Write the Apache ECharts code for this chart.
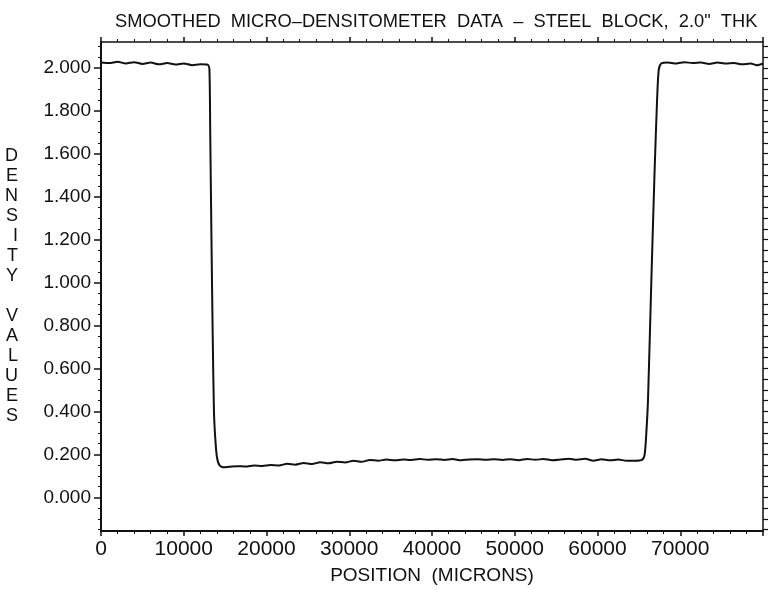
<!DOCTYPE html>
<html>
<head>
<meta charset="utf-8">
<script src="https://cdn.jsdelivr.net/npm/echarts@6/dist/echarts.min.js"></script>
<style>
  html, body { margin: 0; padding: 0; background: #fff; }
  #chart { width: 770px; height: 590px; }
</style>
</head>
<body>
<div id="chart"></div>
<script>
// position along the scan (microns)
var positions = [
  0, 1000, 2000, 3000, 4000, 5000, 6000, 7000, 8000, 9000,
  10000, 11000, 12000, 12900, 13100, 13200, 13350, 13500, 13650, 13800,
  14000, 14300, 14800, 15500, 16500, 17500, 18500, 19500, 20500, 21500,
  22500, 23500, 24500, 25500, 26500, 27500, 28500, 29500, 30500, 31500,
  32500, 33500, 34500, 35500, 36500, 37500, 38500, 39500, 40500, 41500,
  42500, 43500, 44500, 45500, 46500, 47500, 48500, 49500, 50500, 51500,
  52500, 53500, 54500, 55500, 56500, 57500, 58500, 59500, 60500, 61500,
  62500, 63500, 64500, 65400, 65700, 65900, 66100, 66500, 66900, 67200,
  67400, 67700, 68500, 69500, 70500, 71500, 72500, 73500, 74500, 75500,
  76500, 77500, 78500, 79300, 80000
];
// smoothed density readings
var density = [
  2.025, 2.022, 2.028, 2.020, 2.026, 2.018, 2.024, 2.016, 2.022, 2.015,
  2.020, 2.012, 2.016, 2.014, 1.995, 1.700, 1.200, 0.750, 0.400, 0.280,
  0.190, 0.150, 0.140, 0.142, 0.145, 0.143, 0.148, 0.146, 0.150, 0.148,
  0.156, 0.152, 0.160, 0.155, 0.163, 0.158, 0.166, 0.162, 0.170, 0.165,
  0.174, 0.170, 0.176, 0.172, 0.176, 0.174, 0.178, 0.175, 0.177, 0.174,
  0.178, 0.172, 0.176, 0.177, 0.175, 0.177, 0.174, 0.177, 0.173, 0.178,
  0.175, 0.178, 0.173, 0.176, 0.180, 0.175, 0.179, 0.170, 0.177, 0.172,
  0.176, 0.170, 0.170, 0.175, 0.200, 0.300, 0.450, 1.000, 1.520, 1.850,
  1.990, 2.020, 2.025, 2.020, 2.026, 2.022, 2.024, 2.018, 2.025, 2.020,
  2.022, 2.016, 2.020, 2.012, 2.020
];

var yLabelValues = [0, 0.2, 0.4, 0.6, 0.8, 1.0, 1.2, 1.4, 1.6, 1.8, 2.0];
var yMinorValues = [
  -0.15, -0.1, -0.05, 0.05, 0.1, 0.15, 0.25, 0.3, 0.35, 0.45, 0.5, 0.55,
  0.65, 0.7, 0.75, 0.85, 0.9, 0.95, 1.05, 1.1, 1.15, 1.25, 1.3, 1.35,
  1.45, 1.5, 1.55, 1.65, 1.7, 1.75, 1.85, 1.9, 1.95, 2.05, 2.1
];

var FONT = "Liberation Sans";
var chart = echarts.init(document.getElementById("chart"));

var data = [];
positions.forEach(function (p, i) {
  data.push([p, density[i]]);
});

var yMin = -0.157;
var yMax = 2.12;

chart.setOption({
  backgroundColor: "#ffffff",
  animation: false,
  title: {
    text: "SMOOTHED  MICRO\u2013DENSITOMETER  DATA  \u2013  STEEL  BLOCK,  2.0\"  THK",
    left: 110,
    top: 8,
    textStyle: {
      fontFamily: FONT,
      fontSize: 18.3,
      fontWeight: "normal",
      color: "#111"
    }
  },
  grid: {
    left: 101,
    right: 7,
    top: 42,
    bottom: 56
  },
  xAxis: [
    {
      type: "value",
      position: "bottom",
      min: 0,
      max: 80000,
      interval: 10000,
      name: "POSITION  (MICRONS)",
      nameLocation: "middle",
      nameGap: 35,
      nameTextStyle: { fontFamily: FONT, fontSize: 19, color: "#111" },
      axisLine: { show: true, onZero: false, lineStyle: { color: "#111", width: 2 } },
      axisTick: { show: true, length: 5, lineStyle: { color: "#111", width: 1.5 } },
      minorTick: { show: true, splitNumber: 5, length: 3, lineStyle: { color: "#111", width: 1 } },
      axisLabel: {
        fontFamily: FONT,
        fontSize: 21,
        color: "#111",
        margin: 8,
        showMaxLabel: false,
        formatter: function (v) { return String(v); }
      },
      splitLine: { show: false }
    },
    {
      type: "value",
      position: "top",
      min: 0,
      max: 80000,
      interval: 10000,
      axisLine: { show: true, onZero: false, lineStyle: { color: "#111", width: 1.5 } },
      axisTick: { show: true, length: 5, lineStyle: { color: "#111", width: 1.5 } },
      minorTick: { show: true, splitNumber: 5, length: 3, lineStyle: { color: "#111", width: 1 } },
      axisLabel: { show: false },
      splitLine: { show: false }
    }
  ],
  yAxis: [
    {
      type: "value",
      position: "left",
      min: yMin,
      max: yMax,
      name: "D\nE\nN\nS\nI\nT\nY\n\nV\nA\nL\nU\nE\nS",
      nameLocation: "middle",
      nameRotate: 0,
      nameGap: 83,
      nameTextStyle: { fontFamily: FONT, fontSize: 18, lineHeight: 20, color: "#111" },
      axisLine: { show: true, onZero: false, lineStyle: { color: "#111", width: 2 } },
      axisTick: {
        show: true,
        length: 7,
        customValues: yLabelValues,
        lineStyle: { color: "#111", width: 1.5 }
      },
      axisLabel: {
        fontFamily: FONT,
        fontSize: 19,
        color: "#111",
        margin: 10,
        customValues: yLabelValues,
        formatter: function (v) { return v.toFixed(3); }
      },
      splitLine: { show: false }
    },
    {
      type: "value",
      position: "left",
      min: yMin,
      max: yMax,
      axisLine: { show: false, onZero: false },
      axisTick: {
        show: true,
        length: 3,
        customValues: yMinorValues,
        lineStyle: { color: "#111", width: 1 }
      },
      axisLabel: { show: false },
      splitLine: { show: false }
    },
    {
      type: "value",
      position: "right",
      min: yMin,
      max: yMax,
      axisLine: { show: true, onZero: false, lineStyle: { color: "#111", width: 1.5 } },
      axisTick: {
        show: true,
        length: 5,
        customValues: yLabelValues.concat(yMinorValues),
        lineStyle: { color: "#111", width: 1.2 }
      },
      axisLabel: { show: false },
      splitLine: { show: false }
    }
  ],
  series: [
    {
      name: "density",
      type: "line",
      xAxisIndex: 0,
      yAxisIndex: 0,
      data: data,
      smooth: 0.25,
      symbol: "none",
      lineStyle: { color: "#111", width: 2 }
    }
  ]
});
</script>
</body>
</html>
